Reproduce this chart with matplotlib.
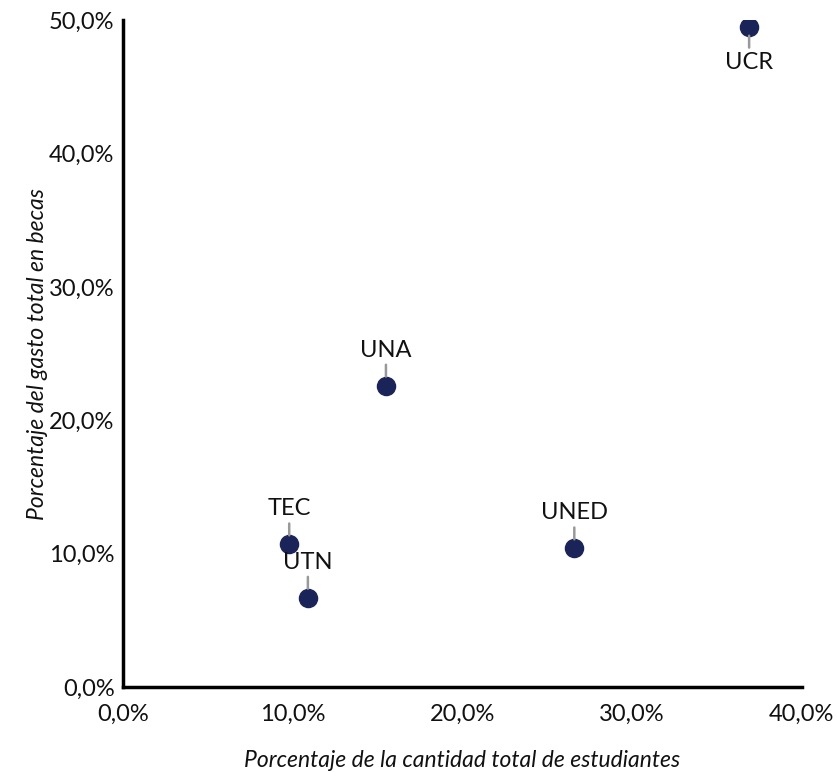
import matplotlib.pyplot as plt
from matplotlib.ticker import FuncFormatter

plt.rcParams['font.family'] = ['Lato', 'DejaVu Sans']

universidades = ['UCR', 'UNA', 'TEC', 'UTN', 'UNED']
pct_estudiantes = [36.9, 15.5, 9.8, 10.9, 26.6]
pct_gasto_becas = [49.5, 22.6, 10.7, 6.7, 10.4]
# etiqueta arriba (1) o abajo (-1) del punto
posicion = [-1, 1, 1, 1, 1]

x_ticks = [0, 10, 20, 30, 40]
y_ticks = [0, 10, 20, 30, 40, 50]

color_punto = '#1b2458'

fig = plt.figure(figsize=(8.36, 7.72), dpi=100)
ax = fig.add_axes([0.147, 0.110, 0.812, 0.864])

ax.scatter(pct_estudiantes, pct_gasto_becas, s=170, color=color_punto, zorder=3)

for nombre, x, y, p in zip(universidades, pct_estudiantes, pct_gasto_becas, posicion):
    ax.annotate(nombre, (x, y), xytext=(0, 18 * p), textcoords='offset points',
                ha='center', va='bottom' if p > 0 else 'top', fontsize=17, color='#111111',
                arrowprops=dict(arrowstyle='-', color='#999999', lw=1.8,
                                shrinkA=1, shrinkB=6.5))

ax.set_xlim(0, 40)
ax.set_ylim(0, 50)
ax.set_xticks(x_ticks)
ax.set_yticks(y_ticks)
fmt = FuncFormatter(lambda v, pos: f'{v:.1f}%'.replace('.', ','))
ax.xaxis.set_major_formatter(fmt)
ax.yaxis.set_major_formatter(fmt)
ax.tick_params(length=0, labelsize=17, colors='#111111')
ax.tick_params(axis='x', pad=12)
ax.tick_params(axis='y', pad=6)

for s in ['top', 'right']:
    ax.spines[s].set_visible(False)
for s in ['left', 'bottom']:
    ax.spines[s].set_linewidth(2.5)
    ax.spines[s].set_color('black')

ax.set_xlabel('Porcentaje de la cantidad total de estudiantes', fontsize=16.5,
              style='italic', labelpad=18, color='#111111')
ax.set_ylabel('Porcentaje del gasto total en becas', fontsize=16.5,
              style='italic', labelpad=1, color='#111111')

fig.savefig('out.png', dpi=100)
